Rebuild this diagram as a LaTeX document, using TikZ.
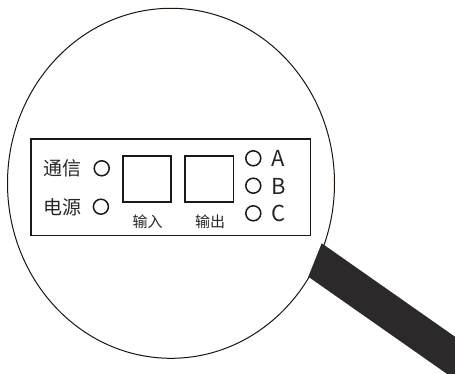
\documentclass[tikz,border=0pt]{standalone}
\usepackage{fontspec}
\newfontfamily\cjk{Noto Sans CJK SC}
\begin{document}
\begin{tikzpicture}[x=1pt,y=-1pt,
  lens/.style={draw=black!85!brown, line width=1pt},
  panel/.style={draw=black!90, line width=1.6pt, rectangle, inner sep=0pt},
  led/.style={draw=black!90, line width=1.5pt, circle, inner sep=0pt, minimum size=15pt},
  port/.style={draw=black!90, line width=1.8pt, rectangle, inner sep=0pt, minimum width=48.5pt, minimum height=46pt},
  biglabel/.style={font=\cjk\fontsize{19}{19}\selectfont, text=black!85, inner sep=0pt},
  letter/.style={font=\cjk\fontsize{22}{22}\selectfont, text=black!85, inner sep=0pt},
  smalllabel/.style={font=\cjk\fontsize{15}{15}\selectfont, text=black!85, inner sep=0pt},
  handle/.style={fill=black!95!cyan}]
\useasboundingbox (0,0) rectangle (455,374);

% lens rim
\draw[lens] (171,183.3) ellipse [x radius=163.5pt, y radius=175pt];

% handle, cut off by the page edge
\begin{scope}
  \clip (0,0) rectangle (455,374);
  \fill[handle] (321.7,243.3) -- (308.3,276.7) -- (472.1,391.5) -- (485.5,358.1) -- cycle;
\end{scope}

% front panel
\node[panel, minimum width=279.5pt, minimum height=96.5pt] (panel) at (170.9,187.4) {};

% status indicators
\node[biglabel] (comm) at (62,168) {通信};
\node[biglabel] (power) at (62,207) {电源};
\node[led] (commled) at (101.7,168.3) {};
\node[led] (powerled) at (100.9,206.7) {};

% input / output ports
\node[port] (in) at (147,179) {};
\node[port] (out) at (209.2,179) {};
\node[smalllabel] (inlbl) at (147.5,221.5) {输入};
\node[smalllabel] (outlbl) at (210,221.5) {输出};

% phase indicators
\node[led] (ledA) at (253.3,158.3) {};
\node[led] (ledB) at (253.3,185.7) {};
\node[led] (ledC) at (253.3,213.3) {};
\node[letter] (lA) at (278.5,158.5) {A};
\node[letter] (lB) at (278.5,186) {B};
\node[letter] (lC) at (278.5,213.5) {C};
\end{tikzpicture}
\end{document}
